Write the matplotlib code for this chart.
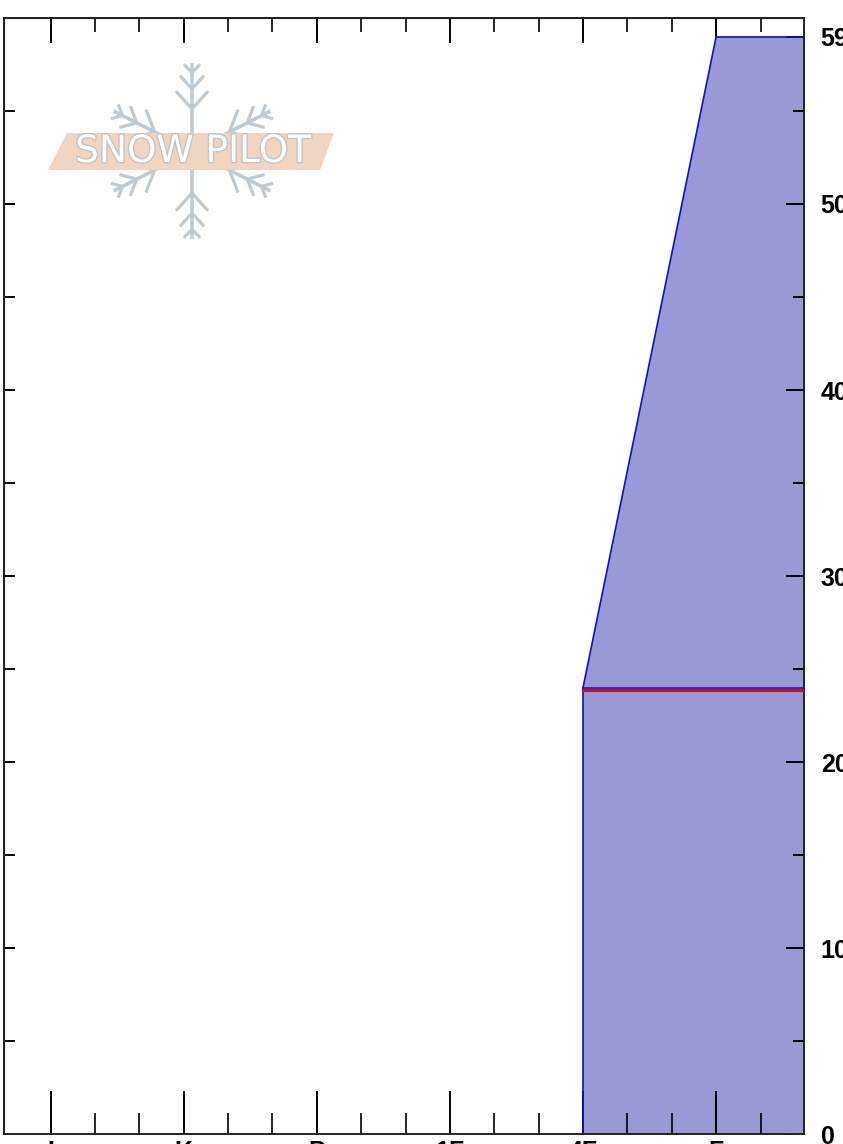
import matplotlib
matplotlib.use("Agg")
import matplotlib.pyplot as plt
import matplotlib.patheffects as pe
import numpy as np

# ---- data ----
hardness_labels = ['I', 'K', 'P', '1F', '4F', 'F']
hardness_values = [6, 5, 4, 3, 2, 1]
layer_bottom = [0, 24]
layer_top = [24, 59]
layer_hard_bottom = [2, 2]
layer_hard_top = [2, 1]
critical_depth = 24
snow_depth = 59
y_major = [0, 10, 20, 30, 40, 50, 59]
y_minor = [5, 15, 25, 35, 45, 55]
y_left = [5, 10, 15, 20, 25, 30, 35, 40, 45, 50, 55]

W, H = 843, 1144
fig = plt.figure(figsize=(W / 100, H / 100), dpi=100)
fig.patch.set_facecolor('white')
ax = fig.add_axes([4 / W, 10 / H, 800 / W, 1116 / H])
XL, XR = 6.35, 0.34
ax.set_xlim(XL, XR)
ax.set_ylim(0, 60)

fill_c = '#9999d6'
edge_c = '#1010c8'
for b, t, hb, ht in zip(layer_bottom, layer_top, layer_hard_bottom, layer_hard_top):
    ax.fill([hb, ht, XR, XR], [b, t, t, b], facecolor=fill_c, edgecolor='none', zorder=1)
    ax.plot([hb, ht], [b, t], color=edge_c, lw=1.2, zorder=2)
    ax.plot([ht, XR], [t, t], color=edge_c, lw=1.2, zorder=2)
ax.plot([layer_hard_bottom[1], XR], [critical_depth - 0.13] * 2, color='#c0102a', lw=2.3, zorder=3)

for s in ax.spines.values():
    s.set_linewidth(1.4)
    s.set_color('#222222')

lab_font = dict(fontsize=18, fontweight='bold', family='Liberation Sans')

# x ticks (bottom)
ax.set_xticks(hardness_values)
ax.set_xticklabels(hardness_labels, **lab_font)
minor_x = [h + f for h in range(1, 6) for f in (1 / 3, 2 / 3)] + [2 / 3]
ax.set_xticks(minor_x, minor=True)
ax.tick_params(axis='x', which='major', direction='in', length=31, width=1.4, pad=4, top=False)
ax.tick_params(axis='x', which='minor', direction='in', length=15, width=1.2, top=False)

# y ticks (right)
ax.yaxis.tick_right()
ax.set_yticks(y_major)
ax.set_yticklabels([str(v) for v in y_major], **lab_font)
ax.set_yticks(y_minor, minor=True)
ax.tick_params(axis='y', which='major', direction='in', length=13, width=1.4, pad=12, left=False)
ax.tick_params(axis='y', which='minor', direction='in', length=8, width=1.4, left=False)

# top ticks
sx = ax.secondary_xaxis('top')
sx.set_xticks(hardness_values)
sx.set_xticklabels([])
sx.set_xticks(minor_x, minor=True)
sx.tick_params(which='major', direction='in', length=18, width=1.4)
sx.tick_params(which='minor', direction='in', length=10, width=1.2)

# left ticks
sy = ax.secondary_yaxis('left')
sy.set_yticks(y_left)
sy.set_yticklabels([])
sy.tick_params(which='major', direction='in', length=8, width=1.4)

# ---- watermark logo (pixel coordinates) ----
lg = fig.add_axes([0, 0, 1, 1], zorder=5)
lg.set_xlim(0, W)
lg.set_ylim(H, 0)
lg.axis('off')
lg.patch.set_alpha(0)
flake_c = '#bfcad2'
cx, cy = 192, 151
arm_len = 88
for ang in [90, 270, 27, 153, 207, 333]:
    a = np.radians(ang)
    ux, uy = np.cos(a), -np.sin(a)
    lg.plot([cx + 10 * ux, cx + arm_len * ux], [cy + 10 * uy, cy + arm_len * uy],
            color=flake_c, lw=2.6, solid_capstyle='butt')
    for d, bl in [(10, 12), (26, 18), (46, 24)]:
        px, py = cx + (arm_len - d) * ux, cy + (arm_len - d) * uy
        for sgn in (1, -1):
            b = a + sgn * np.radians(42)
            lg.plot([px, px + bl * np.cos(b)], [py, py - bl * np.sin(b)],
                    color=flake_c, lw=2.3, solid_capstyle='butt')
lg.fill([48, 67, 334, 320], [170, 133, 133, 170], facecolor='#f0d6c0', alpha=1.0,
        edgecolor='none', zorder=4)
lg.text(193, 152, 'SNOW PILOT', fontsize=27, color='white', ha='center', va='center',
        family='DejaVu Sans', zorder=5,
        path_effects=[pe.withStroke(linewidth=2, foreground='#c4c4c4')])

fig.savefig('out.png', dpi=100)
